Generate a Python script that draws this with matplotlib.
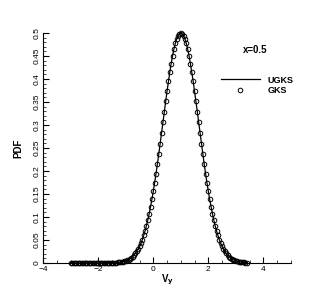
import numpy as np
import matplotlib
matplotlib.use("Agg")
import matplotlib.pyplot as plt
from matplotlib.ticker import MultipleLocator

plt.rcParams['font.family'] = ['Liberation Sans', 'DejaVu Sans']

# velocity grid (-3 .. 3.4)
vy = [-3.00, -2.95, -2.90, -2.85, -2.80, -2.75, -2.70, -2.65, -2.60, -2.55,
      -2.50, -2.45, -2.40, -2.35, -2.30, -2.25, -2.20, -2.15, -2.10, -2.05,
      -2.00, -1.95, -1.90, -1.85, -1.80, -1.75, -1.70, -1.65, -1.60, -1.55,
      -1.50, -1.45, -1.40, -1.35, -1.30, -1.25, -1.20, -1.15, -1.10, -1.05,
      -1.00, -0.95, -0.90, -0.85, -0.80, -0.75, -0.70, -0.65, -0.60, -0.55,
      -0.50, -0.45, -0.40, -0.35, -0.30, -0.25, -0.20, -0.15, -0.10, -0.05,
      0.00, 0.05, 0.10, 0.15, 0.20, 0.25, 0.30, 0.35, 0.40, 0.45,
      0.50, 0.55, 0.60, 0.65, 0.70, 0.75, 0.80, 0.85, 0.90, 0.95,
      1.00, 1.05, 1.10, 1.15, 1.20, 1.25, 1.30, 1.35, 1.40, 1.45,
      1.50, 1.55, 1.60, 1.65, 1.70, 1.75, 1.80, 1.85, 1.90, 1.95,
      2.00, 2.05, 2.10, 2.15, 2.20, 2.25, 2.30, 2.35, 2.40, 2.45,
      2.50, 2.55, 2.60, 2.65, 2.70, 2.75, 2.80, 2.85, 2.90, 2.95,
      3.00, 3.05, 3.10, 3.15, 3.20, 3.25, 3.30, 3.35, 3.40]

pdf_ugks = [0.0000, 0.0000, 0.0000, 0.0000, 0.0000, 0.0000, 0.0000, 0.0000, 0.0000, 0.0000,
            0.0000, 0.0000, 0.0000, 0.0000, 0.0000, 0.0000, 0.0000, 0.0000, 0.0000, 0.0000,
            0.0000, 0.0000, 0.0000, 0.0000, 0.0001, 0.0001, 0.0001, 0.0001, 0.0002, 0.0003,
            0.0003, 0.0005, 0.0006, 0.0008, 0.0011, 0.0014, 0.0018, 0.0023, 0.0029, 0.0037,
            0.0047, 0.0059, 0.0074, 0.0093, 0.0115, 0.0141, 0.0172, 0.0209, 0.0253, 0.0304,
            0.0363, 0.0431, 0.0509, 0.0598, 0.0697, 0.0809, 0.0933, 0.1070, 0.1220, 0.1383,
            0.1559, 0.1746, 0.1945, 0.2154, 0.2372, 0.2596, 0.2824, 0.3056, 0.3287, 0.3514,
            0.3736, 0.3949, 0.4149, 0.4335, 0.4502, 0.4649, 0.4772, 0.4871, 0.4942, 0.4985,
            0.5000, 0.4985, 0.4942, 0.4871, 0.4772, 0.4649, 0.4502, 0.4335, 0.4149, 0.3949,
            0.3736, 0.3514, 0.3287, 0.3056, 0.2824, 0.2596, 0.2372, 0.2154, 0.1945, 0.1746,
            0.1559, 0.1383, 0.1220, 0.1070, 0.0933, 0.0809, 0.0697, 0.0598, 0.0509, 0.0431,
            0.0363, 0.0304, 0.0253, 0.0209, 0.0172, 0.0141, 0.0115, 0.0093, 0.0074, 0.0059,
            0.0047, 0.0037, 0.0029, 0.0023, 0.0018, 0.0014, 0.0011, 0.0008, 0.0006]

pdf_gks = [0.0000, 0.0000, 0.0000, 0.0000, 0.0000, 0.0000, 0.0000, 0.0000, 0.0000, 0.0000,
           0.0000, 0.0000, 0.0000, 0.0000, 0.0000, 0.0000, 0.0000, 0.0000, 0.0000, 0.0000,
           0.0000, 0.0000, 0.0000, 0.0000, 0.0001, 0.0001, 0.0001, 0.0001, 0.0002, 0.0003,
           0.0003, 0.0005, 0.0006, 0.0008, 0.0011, 0.0014, 0.0018, 0.0023, 0.0029, 0.0037,
           0.0047, 0.0059, 0.0074, 0.0093, 0.0115, 0.0141, 0.0172, 0.0209, 0.0253, 0.0304,
           0.0363, 0.0431, 0.0509, 0.0598, 0.0697, 0.0809, 0.0933, 0.1070, 0.1220, 0.1383,
           0.1559, 0.1746, 0.1945, 0.2154, 0.2372, 0.2596, 0.2824, 0.3056, 0.3287, 0.3514,
           0.3736, 0.3949, 0.4149, 0.4335, 0.4502, 0.4649, 0.4772, 0.4871, 0.4942, 0.4985,
           0.5000, 0.4985, 0.4942, 0.4871, 0.4772, 0.4649, 0.4502, 0.4335, 0.4149, 0.3949,
           0.3736, 0.3514, 0.3287, 0.3056, 0.2824, 0.2596, 0.2372, 0.2154, 0.1945, 0.1746,
           0.1559, 0.1383, 0.1220, 0.1070, 0.0933, 0.0809, 0.0697, 0.0598, 0.0509, 0.0431,
           0.0363, 0.0304, 0.0253, 0.0209, 0.0172, 0.0141, 0.0115, 0.0093, 0.0074, 0.0059,
           0.0047, 0.0037, 0.0029, 0.0023, 0.0018, 0.0014, 0.0011, 0.0008, 0.0006]

fig = plt.figure(figsize=(3.32, 2.96), dpi=100)
ax = fig.add_axes([0.1304, 0.1115, 0.7455, 0.777])
ax.plot(vy, pdf_ugks, color='black', lw=0.9, label='UGKS', clip_on=False)
ax.plot(vy, pdf_gks, linestyle='none', marker='o', ms=3.3, mfc='none',
        mec='black', mew=0.7, label='GKS', clip_on=False)

ax.set_xlim(-4, 5)
ax.set_ylim(0, 0.5)
for s in ['top', 'right']:
    ax.spines[s].set_visible(False)
for s in ['left', 'bottom']:
    ax.spines[s].set_linewidth(0.8)

ax.xaxis.set_major_locator(MultipleLocator(2))
ax.xaxis.set_minor_locator(MultipleLocator(0.5))
ax.yaxis.set_major_locator(MultipleLocator(0.05))
ax.yaxis.set_minor_locator(MultipleLocator(0.01))
ax.yaxis.set_major_formatter(plt.FuncFormatter(lambda v, p: ('%g' % round(v, 2))))
ax.tick_params(which='major', direction='in', length=4, width=0.8, labelsize=6, pad=2)
ax.tick_params(which='minor', direction='in', length=2, width=0.5)
for lab in ax.get_yticklabels():
    lab.set_rotation(90)
    lab.set_va('center')

ax.set_xlabel('V$_\\mathbf{y}$', fontsize=7, fontweight='bold', labelpad=0)
ax.set_ylabel('PDF', fontsize=7, fontweight='bold', labelpad=7)

ax.text(3.26, 0.463, 'x=0.5', fontsize=7, fontweight='bold', ha='left', va='center')
leg = ax.legend(loc='upper left', bbox_to_anchor=(0.718, 0.815), frameon=False,
                prop={'size': 6.5, 'weight': 'bold'}, handlelength=4.3,
                handletextpad=0.9, labelspacing=0.15, borderpad=0,
                borderaxespad=0)

fig.savefig('out.png', dpi=100)
